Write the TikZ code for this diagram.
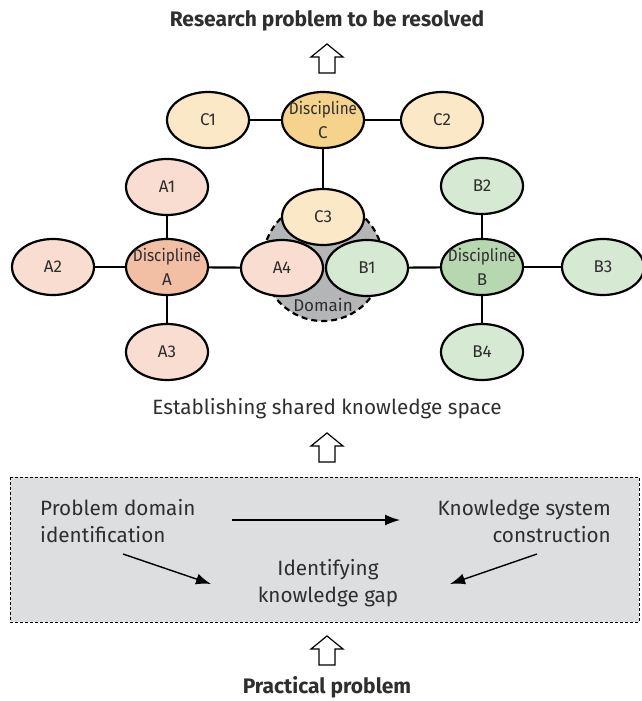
\documentclass[tikz,border=0pt]{standalone}
\usepackage{fontspec}
\usepackage{graphicx}
\setmainfont{Fira Sans}
\usetikzlibrary{shapes.geometric,arrows.meta,calc}
\definecolor{aLight}{HTML}{F8DDD0}
\definecolor{aDark}{HTML}{F2BFA5}
\definecolor{bLight}{HTML}{D6E9D2}
\definecolor{bDark}{HTML}{B6D7AF}
\definecolor{cLight}{HTML}{FBE8C6}
\definecolor{cDark}{HTML}{F5D38D}
\definecolor{domGray}{HTML}{B4B5B6}
\definecolor{boxGray}{HTML}{DDDEE0}
\definecolor{txt}{HTML}{2E2E2E}
\newcommand{\discname}[1]{\makebox[0pt]{\scalebox{0.9}[1]{Discipline}}\\#1}
\tikzset{
  ell/.style={ellipse, draw=black, line width=2.2pt, minimum width=82pt, minimum height=56pt, inner sep=0pt, font=\fontsize{17}{24}\selectfont, text=txt, align=center},
  link/.style={line width=2.2pt},
  arr/.style={line width=1.4pt, -{Latex[length=15pt,width=11pt]}},
  lbl/.style={font=\fontsize{20.7}{27}\selectfont, text=txt, inner sep=0pt},
  ttl/.style={font=\bfseries\fontsize{21}{25}\selectfont, text=txt, inner sep=0pt},
  hollow/.pic={\draw[line width=1.2pt, fill=white] (0,-15)--(16,-2)--(8,-2)--(8,14)--(-8,14)--(-8,-2)--(-16,-2)--cycle;}
}
\begin{document}
\begin{tikzpicture}[x=1pt,y=-1pt]
\useasboundingbox (0,0) rectangle (642,701);
% titles
\node[ttl] (title) at (327,21) {Research problem to be resolved};
\pic at (327,59) {hollow};
% domain
\draw[fill=domGray, line width=2.2pt, dash pattern=on 6pt off 4pt] (323,261) circle (60);
\node[font=\fontsize{17}{20}\selectfont, text=txt, inner sep=0pt] (dom) at (323,305) {Domain};
% C
\node[ell, fill=cDark] (dc) at (323,120) {\discname{C}};
\node[ell, fill=cLight] (c1) at (208,120) {C1};
\node[ell, fill=cLight] (c2) at (442,120) {C2};
\draw[link] (c1) -- (dc); \draw[link] (dc) -- (c2);
% A
\node[ell, fill=aDark] (da) at (167,267) {\discname{A}};
\node[ell, fill=aLight] (a1) at (167,187) {A1};
\node[ell, fill=aLight] (a2) at (53,267) {A2};
\node[ell, fill=aLight] (a3) at (167,352) {A3};
\draw[link] (da) -- (a1); \draw[link] (da) -- (a2); \draw[link] (da) -- (a3);
% B
\node[ell, fill=bDark] (db) at (482,267) {\discname{B}};
\node[ell, fill=bLight] (b2) at (482,186) {B2};
\node[ell, fill=bLight] (b3) at (603,267) {B3};
\node[ell, fill=bLight] (b4) at (482,352) {B4};
\draw[link] (db) -- (b2); \draw[link] (db) -- (b3); \draw[link] (db) -- (b4);
% shared nodes
\node[ell, fill=cLight] (c3) at (323,217) {C3};
\draw[link] (dc) -- (c3);
\node[ell, fill=aLight] (a4) at (282,268) {A4};
\node[ell, fill=bLight] (b1) at (367,268) {B1};
\draw[link] (da) -- (a4); \draw[link] (b1) -- (db);
% middle
\node[lbl] (est) at (327,409) {Establishing shared knowledge space};
\pic at (327,448) {hollow};
% box
\draw[fill=boxGray, line width=0.8pt, dash pattern=on 3pt off 2pt] (10,477) rectangle (639,622);
\node[lbl, align=left, anchor=west] (pd) at (40,521) {Problem domain\\identification};
\node[lbl, align=right, anchor=east] (ks) at (611,521) {Knowledge system\\construction};
\node[lbl, align=center] (gap) at (328,583) {Identifying\\knowledge gap};
\draw[arr] ($(pd.west)+(192,-1)$) -- ($(ks.east)+(-211,-1)$);
\draw[arr] ($(pd.west)+(83,33)$) -- ($(gap.center)+(-117,1)$);
\draw[arr] ($(ks.east)+(-74,33)$) -- ($(gap.center)+(122,1)$);
\pic at (327,651) {hollow};
\node[ttl] (pp) at (327,687) {Practical problem};
\end{tikzpicture}
\end{document}
